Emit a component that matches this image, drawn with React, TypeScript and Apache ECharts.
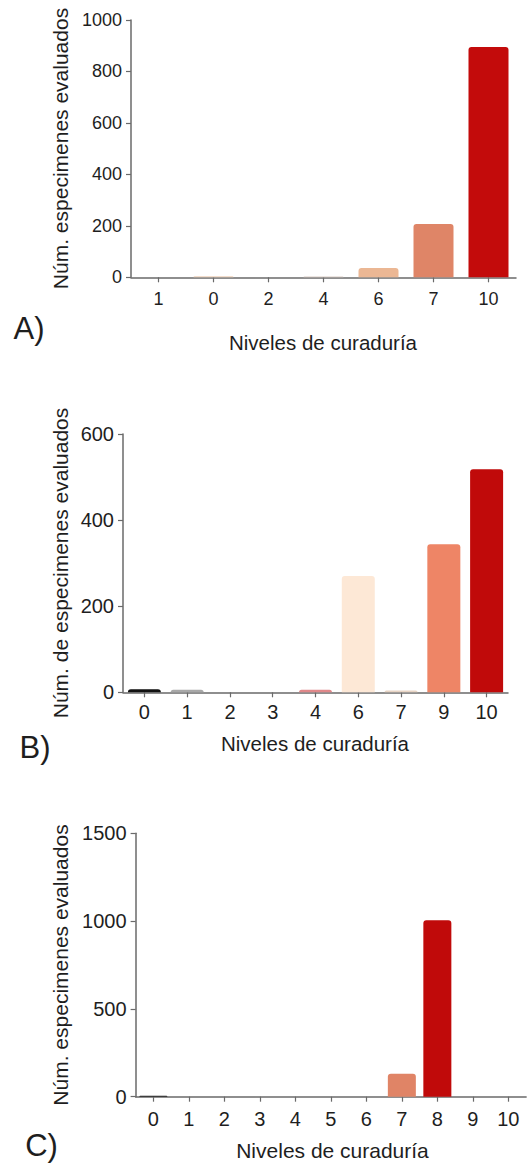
import React, { useEffect, useRef } from "react";
import * as echarts from "echarts";

const catsA = ["1", "0", "2", "4", "6", "7", "10"];
const valsA = [0, 4, 0, 3, 36, 207, 895];
const catsB = ["0", "1", "2", "3", "4", "6", "7", "9", "10"];
const valsB = [7, 6, 0, 0, 6, 270, 4, 344, 518];
const catsC = ["0", "1", "2", "3", "4", "5", "6", "7", "8", "9", "10"];
const valsC = [5, 0, 0, 0, 0, 0, 0, 130, 1005, 0, 0];

const paletteA = ["#eadcd2", "#f0d2bc", "#eadcd2", "#d9cbc4", "#ebb794", "#df8567", "#c30b0b"];
const paletteB = ["#111111", "#a8a8a8", "#cccccc", "#cccccc", "#e0888a", "#fde8d6", "#e8d4c4", "#ee8566", "#c00a0a"];
const paletteC = ["#222222", "#cccccc", "#cccccc", "#cccccc", "#cccccc", "#cccccc", "#cccccc", "#e08466", "#c00a0a", "#cccccc", "#cccccc"];

const FONT = "'Liberation Sans', Arial, sans-serif";
const TXT = "#1e1e1e";
const AX = "#6a6a6a";

export default function App() {
  const ref = useRef<HTMLDivElement>(null);
  useEffect(() => {
    if (!ref.current) return;
    const chart = echarts.init(ref.current, null, { renderer: "svg" });
    const axisLine = { show: true, lineStyle: { color: AX, width: 1.5 } };
    const axisTick = { show: true, length: 5, lineStyle: { color: AX, width: 1.2 } };
    const mkX = (idx: number, data: string[], fs: number, margin: number) => ({
      type: "category",
      gridIndex: idx,
      data,
      axisLine,
      axisTick: { ...axisTick, alignWithLabel: true },
      axisLabel: { color: TXT, fontSize: fs, fontFamily: FONT, margin },
    });
    const mkY = (idx: number, max: number, interval: number, fs: number) => ({
      type: "value",
      gridIndex: idx,
      min: 0,
      max,
      interval,
      splitLine: { show: false },
      axisLine,
      axisTick,
      axisLabel: { color: TXT, fontSize: fs, fontFamily: FONT, margin: 9, formatter: (v: number) => String(v) },
    });
    const mkSeries = (idx: number, vals: number[], pal: string[], bw: number) => ({
      type: "bar",
      xAxisIndex: idx,
      yAxisIndex: idx,
      barWidth: bw,
      data: vals.map((v, i) => ({ value: v, itemStyle: { color: pal[i] } })),
      itemStyle: { borderRadius: [3, 3, 0, 0] },
    });
    const title = (text: string, x: number, y: number, rot: number, fs: number) => ({
      type: "text",
      x,
      y,
      rotation: rot,
      style: { text, fill: TXT, fontSize: fs, fontFamily: FONT, align: "center", verticalAlign: "middle" },
    });
    chart.setOption({
      animation: false,
      grid: [
        { left: 131, width: 385, top: 20, height: 257.3 },
        { left: 123, width: 385, top: 434, height: 258.3 },
        { left: 135.6, width: 390.5, top: 833.3, height: 263.4 },
      ],
      xAxis: [mkX(0, catsA, 18, 13), mkX(1, catsB, 20, 10), mkX(2, catsC, 20, 12)],
      yAxis: [mkY(0, 1000, 200, 18), mkY(1, 600, 200, 20), mkY(2, 1500, 500, 20)],
      series: [mkSeries(0, valsA, paletteA, 40), mkSeries(1, valsB, paletteB, 33), mkSeries(2, valsC, paletteC, 28)],
      graphic: [
        title("Núm. especimenes evaluados", 60, 148.5, Math.PI / 2, 21),
        title("Niveles de curaduría", 323, 342, 0, 20.5),
        title("A)", 29, 328, 0, 31),
        title("Núm. de especimenes evaluados", 60, 563, Math.PI / 2, 21),
        title("Niveles de curaduría", 315, 743, 0, 20.5),
        title("B)", 35, 747, 0, 31),
        title("Núm. especimenes evaluados", 60, 965, Math.PI / 2, 21),
        title("Niveles de curaduría", 332.5, 1150, 0, 21),
        title("C)", 41.5, 1145, 0, 31),
      ],
    });
    return () => chart.dispose();
  }, []);
  return (
    <div
      ref={ref}
      style={{ position: "absolute", left: 0, top: 0, width: 528, height: 1163, background: "#fff" }}
    />
  );
}
